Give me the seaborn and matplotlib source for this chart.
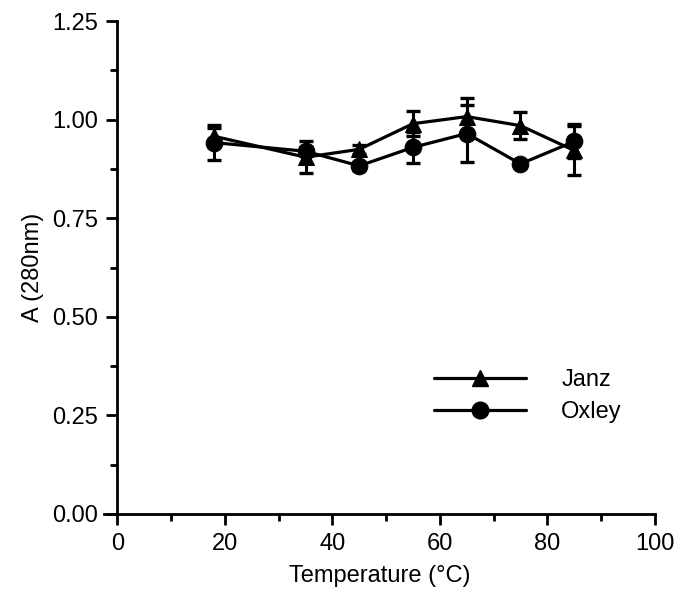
import matplotlib
matplotlib.use("Agg")
import matplotlib.pyplot as plt
import seaborn as sns
import pandas as pd
from matplotlib.ticker import MultipleLocator
from matplotlib.lines import Line2D

temps = [18, 35, 45, 55, 65, 75, 85]
janz = [0.958, 0.905, 0.925, 0.990, 1.008, 0.985, 0.922]
janz_err = [0.020, 0.040, 0.012, 0.032, 0.048, 0.035, 0.063]
oxley = [0.942, 0.920, 0.883, 0.930, 0.965, 0.888, 0.945]
oxley_err = [0.045, 0.012, 0.010, 0.040, 0.072, 0.008, 0.043]

sns.set_style("ticks")
plt.rcParams['font.family'] = ['Liberation Sans', 'DejaVu Sans']
for k in ['text.color', 'axes.labelcolor', 'xtick.color', 'ytick.color', 'axes.edgecolor']:
    plt.rcParams[k] = 'black'

df = pd.DataFrame({
    "Temperature": temps * 2,
    "A": janz + oxley,
    "err": janz_err + oxley_err,
    "Sample": ["Janz"] * len(temps) + ["Oxley"] * len(temps),
})

fig = plt.figure(figsize=(6.8, 6.06), dpi=100)
ax = fig.add_axes([0.153, 0.152, 0.81, 0.813])

for name in ["Janz", "Oxley"]:
    sub = df[df["Sample"] == name]
    ax.errorbar(sub["Temperature"], sub["A"], yerr=sub["err"], fmt="none",
                ecolor="black", elinewidth=2.2, capsize=5, capthick=2.4, zorder=2)

sns.lineplot(data=df, x="Temperature", y="A", hue="Sample", style="Sample",
             markers={"Janz": "^", "Oxley": "o"}, dashes=False,
             palette={"Janz": "black", "Oxley": "black"},
             markersize=12, linewidth=2.3, markeredgecolor="black",
             ax=ax, legend=False, zorder=3)

handles = [Line2D([], [], color="black", lw=2.3, marker="^", markersize=12),
           Line2D([], [], color="black", lw=2.3, marker="o", markersize=12)]
ax.legend(handles, ["Janz", "Oxley"], frameon=False, loc="upper left",
          bbox_to_anchor=(0.56, 0.337), handlelength=3.9, fontsize=17,
          labelspacing=0.42, handletextpad=1.5, numpoints=1)

ax.set_xlim(-2.5, 100)
ax.set_ylim(0, 1.25)
ax.spines['left'].set_position(('data', 0))
ax.spines['left'].set_bounds(0, 1.25)
ax.spines['top'].set_visible(False)
ax.spines['right'].set_visible(False)
for s in ['left', 'bottom']:
    ax.spines[s].set_linewidth(2)

ax.xaxis.set_major_locator(MultipleLocator(20))
ax.xaxis.set_minor_locator(MultipleLocator(10))
ax.yaxis.set_major_locator(MultipleLocator(0.25))
ax.yaxis.set_minor_locator(MultipleLocator(0.125))
ax.yaxis.set_major_formatter(matplotlib.ticker.FormatStrFormatter("%.2f"))
ax.tick_params(which="major", direction="out", length=8, width=2, labelsize=17, pad=6)
ax.tick_params(which="minor", direction="out", length=5, width=2)

ax.set_xlabel("Temperature (°C)", fontsize=17, labelpad=7)
ax.set_ylabel("A (280nm)", fontsize=17, labelpad=6)

fig.savefig("out.png", dpi=100)
